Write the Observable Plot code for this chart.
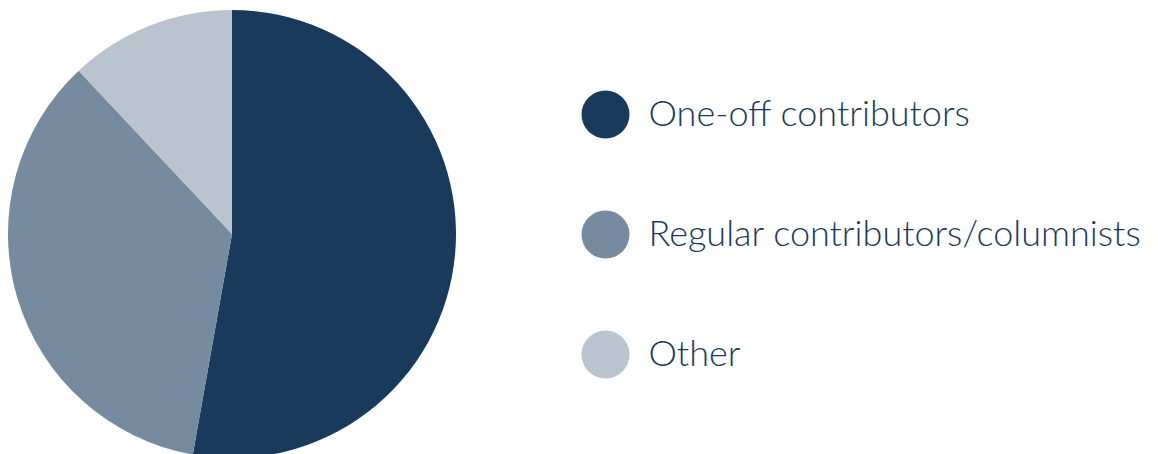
<!DOCTYPE html>
<html>
<head>
<meta charset="utf-8">
<script src="https://cdn.jsdelivr.net/npm/d3@7"></script>
<script src="https://cdn.jsdelivr.net/npm/@observablehq/plot@0.6"></script>
<style>
  html, body { margin: 0; padding: 0; background: #fff; }
  #chart svg { display: block; }
</style>
</head>
<body>
<div id="chart"></div>
<script>
const categories = ["One-off contributors", "Regular contributors/columnists", "Other"];
const shares = [52.8, 35.2, 12];
const colors = ["#1a3a5c", "#768aa0", "#bac4cf"];

const data = categories.map((c, i) => ({category: c, value: shares[i]}));

const W = 1158, H = 454;
const pieCx = 232, pieCy = 234, pieR = 224;

function pieMark(index, scales, values, dimensions, context) {
  const g = d3.create("svg:g").attr("transform", `translate(${pieCx},${pieCy})`);
  const arcs = d3.pie().sort(null).value(d => d.value)(data);
  const arc = d3.arc().innerRadius(0).outerRadius(pieR);
  g.selectAll("path").data(arcs).join("path")
    .attr("d", arc)
    .attr("fill", d => scales.color(d.data.category));
  return g.node();
}

const chart = Plot.plot({
  width: W,
  height: H,
  margin: 0,
  style: {fontFamily: "Lato, sans-serif", background: "#fff"},
  x: {domain: [0, 1], range: [0, W], axis: null},
  y: {type: "point", domain: categories, range: [114, 354], padding: 0, axis: null},
  color: {domain: categories, range: colors},
  marks: [
    pieMark,
    Plot.dot(data, {x: () => 0, y: "category", dx: 605, r: 24, fill: "category", stroke: null}),
    Plot.text(data, {x: () => 0, y: "category", dx: 648, text: "category", textAnchor: "start",
      fill: "#1a3a5c", fontSize: 36, fontWeight: 300, lineAnchor: "middle"})
  ]
});
document.getElementById("chart").appendChild(chart);
</script>
</body>
</html>
